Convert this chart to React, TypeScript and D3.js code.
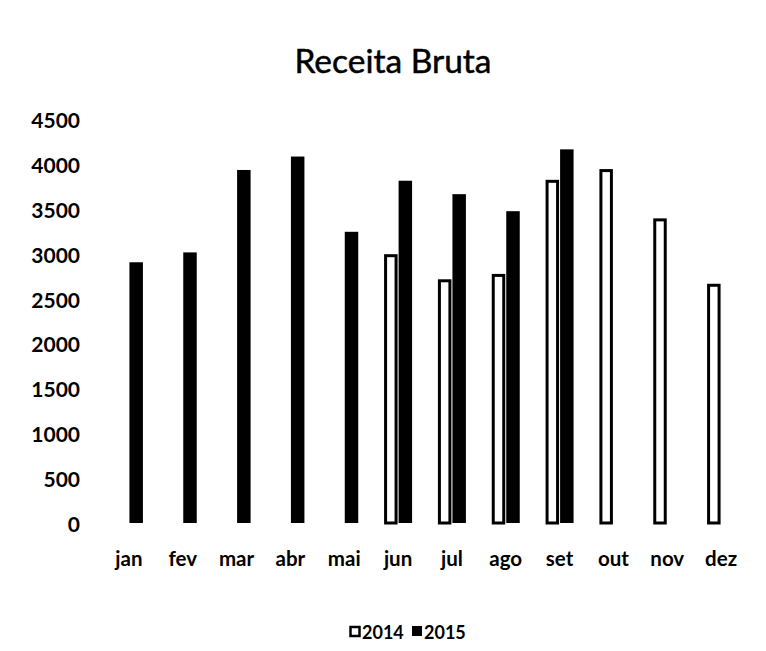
import React from "react";
import * as d3 from "d3";

const months = ["jan", "fev", "mar", "abr", "mai", "jun", "jul", "ago", "set", "out", "nov", "dez"];
const series = ["2014", "2015"];
const values2014: (number | null)[] = [null, null, null, null, null, 3000, 2720, 2780, 3830, 3950, 3400, 2670];
const values2015: (number | null)[] = [2910, 3020, 3940, 4090, 3250, 3820, 3670, 3480, 4170, null, null, null];
const yTicks = [0, 500, 1000, 1500, 2000, 2500, 3000, 3500, 4000, 4500];
const title = "Receita Bruta";

const W = 766;
const H = 651;
const FONT = "Lato, 'Open Sans', sans-serif";

export default function App() {
  const x = d3.scaleBand<string>().domain(months).range([102, 748]).padding(0);
  const x1 = d3.scaleBand<string>().domain(series).range([0, 28]).paddingInner(0.07);
  const y = d3.scaleLinear().domain([0, 4500]).range([523, 119.8]);
  const bw = x1.bandwidth();

  const center = (m: string) => (x(m) as number) + x.bandwidth() / 2;

  return (
    <svg width={W} height={H} style={{ position: "absolute", left: 0, top: 0, background: "#fff" }}>
      <rect x={0} y={0} width={W} height={H} fill="#fff" />
      <text x={393} y={73} textAnchor="middle" fontFamily={FONT} fontSize={33.5} fill="#000" stroke="#000" strokeWidth={0.5}>
        {title}
      </text>
      {yTicks.map((t) => (
        <text key={t} x={80} y={y(t)} textAnchor="end" dominantBaseline="central" fontFamily={FONT} fontWeight="bold" fontSize={21} fill="#000">
          {t}
        </text>
      ))}
      {months.map((m, i) => {
        const c = center(m);
        const left = c - 14;
        const v14 = values2014[i];
        const v15 = values2015[i];
        return (
          <g key={m}>
            {v14 != null && (
              <rect
                x={left + (x1("2014") as number) + 1.5}
                y={y(v14) + 1.5}
                width={bw - 3}
                height={y(0) - y(v14) - 1.5}
                fill="#fff"
                stroke="#000"
                strokeWidth={3}
              />
            )}
            {v15 != null && (
              <rect x={left + (x1("2015") as number)} y={y(v15)} width={bw} height={y(0) - y(v15)} fill="#000" />
            )}
            <text x={c} y={566} textAnchor="middle" fontFamily={FONT} fontWeight="bold" fontSize={20.5} fill="#000">
              {m}
            </text>
          </g>
        );
      })}
      <g>
        <rect x={350.5} y={627} width={9} height={9} fill="#fff" stroke="#000" strokeWidth={2.5} />
        <text x={362} y={639} fontFamily={FONT} fontWeight="bold" fontSize={18} fill="#000">
          {series[0]}
        </text>
        <rect x={412} y={626} width={10} height={10} fill="#000" />
        <text x={424} y={639} fontFamily={FONT} fontWeight="bold" fontSize={18} fill="#000">
          {series[1]}
        </text>
      </g>
    </svg>
  );
}
